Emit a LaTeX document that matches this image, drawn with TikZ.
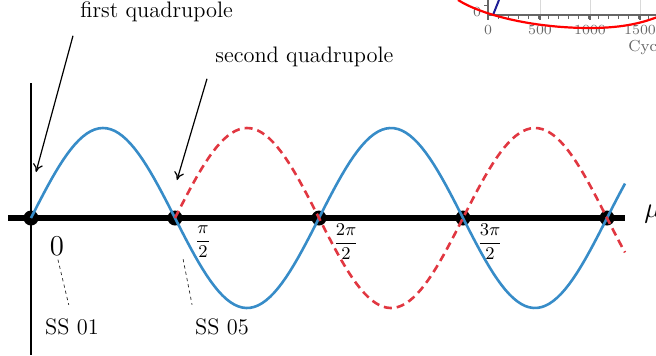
\documentclass[tikz,border=0pt]{standalone}
\usepackage{amsmath}
\usetikzlibrary{arrows.meta,positioning}
\definecolor{mywaveblue}{RGB}{55,140,200}
\definecolor{mywavered}{RGB}{225,55,65}
\definecolor{mydarkblue}{RGB}{30,30,150}
\colorlet{mygrey}{black!60}
\tikzstyle{axis}=[line width=2.6pt]
\tikzstyle{wave}=[line width=1.3pt,mywaveblue]
\tikzstyle{wave shifted}=[line width=1.3pt,mywavered,dash pattern=on 4pt off 2.5pt]
\tikzstyle{zero}=[circle,fill=black,minimum size=7.5pt,inner sep=0pt]
\tikzstyle{pointer}=[-{To[length=4pt,width=5pt]},line width=0.6pt]
\tikzstyle{guide}=[line width=0.35pt,black!85,dash pattern=on 1.6pt off 1.6pt]
\tikzstyle{phase}=[font=\fontsize{9.5}{11}\selectfont]
\tikzstyle{label}=[font=\fontsize{11.2}{13}\selectfont]
\tikzstyle{chart}=[font=\fontsize{7}{8}\selectfont,mygrey]

\begin{document}
\begin{tikzpicture}[x=0.5pt,y=-0.5pt,every node/.style={inner sep=0pt}]
  \useasboundingbox (0,0) rectangle (656,355);
  \def\per{288}

  % piece of another plot, top right
  \begin{scope}
    \clip (0,0) rectangle (656,355);
    \foreach \gx in {540,590,640}{ \draw[black!15,line width=0.4pt] (\gx,0) -- (\gx,15); }
    \draw[mygrey,line width=0.6pt] (488,0) -- (488,15) -- (660,15);
    \draw[mygrey,line width=0.5pt] (484,5) -- (488,5);
    \foreach \tx in {498,508,...,658}{ \draw[mygrey,line width=0.5pt] (\tx,15) -- (\tx,19); }
    \foreach \tx in {488,540,590,640}{ \draw[mygrey,line width=0.6pt] (\tx,15) -- (\tx,20); }
    \node[chart] (c0) at (477,12) {0};
    \node[chart] (t0) at (488,30) {0};
    \node[chart] (t500) at (540,30) {500};
    \node[chart] (t1000) at (590,30) {1000};
    \node[chart] (t1500) at (640,30) {1500};
    \node[chart,anchor=west,font=\fontsize{8}{9}\selectfont] (cyc) at (628,47) {Cycle};
    \draw[mydarkblue,line width=1pt] (493,15) -- (499,0);
    \draw[red,line width=1.1pt] (458,0) .. controls (480,14) and (530,28) .. (590,28)
      .. controls (625,28) and (645,22) .. (660,16);
  \end{scope}

  % axes
  \draw[line width=1.1pt] (31,83) -- (31,355);
  \draw[axis] (8,218) -- (625,218);
  \node[anchor=west,font=\fontsize{14}{16}\selectfont] (mu) at (644,214) {$\mu$};

  % zero crossings
  \foreach \i in {0,...,4}{ \node[zero] (z\i) at ({31+\i*\per/2},218) {}; }

  % the two waves
  \draw[wave] plot[domain=31:625,samples=150] (\x,{218-90*sin(360/\per*(\x-31))});
  \draw[wave shifted] plot[domain=175:625,samples=120] (\x,{218+90*sin(360/\per*(\x-31))});

  % phase labels
  \node[font=\fontsize{15}{17}\selectfont] (p0) at (57,246) {$0$};
  \node[phase] (p1) at (203,242) {$\dfrac{\pi}{2}$};
  \node[phase] (p2) at (346,242) {$\dfrac{2\pi}{2}$};
  \node[phase] (p3) at (490,242) {$\dfrac{3\pi}{2}$};

  % straight sections
  \node[label] (ss01) at (72,327) {SS 01};
  \node[label] (ss05) at (222,327) {SS 05};
  \draw[guide,shorten <=2pt,shorten >=7pt] (p0.south) -- (ss01.north);
  \draw[guide,shorten <=17pt,shorten >=7pt] (z1) -- (ss05.north west);

  % quadrupoles
  \node[label,anchor=base west] (q1) at (80,17) {first quadrupole};
  \node[label,anchor=base west] (q2) at (215,62) {second quadrupole};
  \coordinate (q1tip) at (36,172);
  \coordinate (q2tip) at (177,180);
  \draw[pointer] ([xshift=-3.5pt,yshift=-7pt]q1.south west) -- (q1tip);
  \draw[pointer] ([xshift=-4pt,yshift=-6pt]q2.south west) -- (q2tip);
\end{tikzpicture}
\end{document}
